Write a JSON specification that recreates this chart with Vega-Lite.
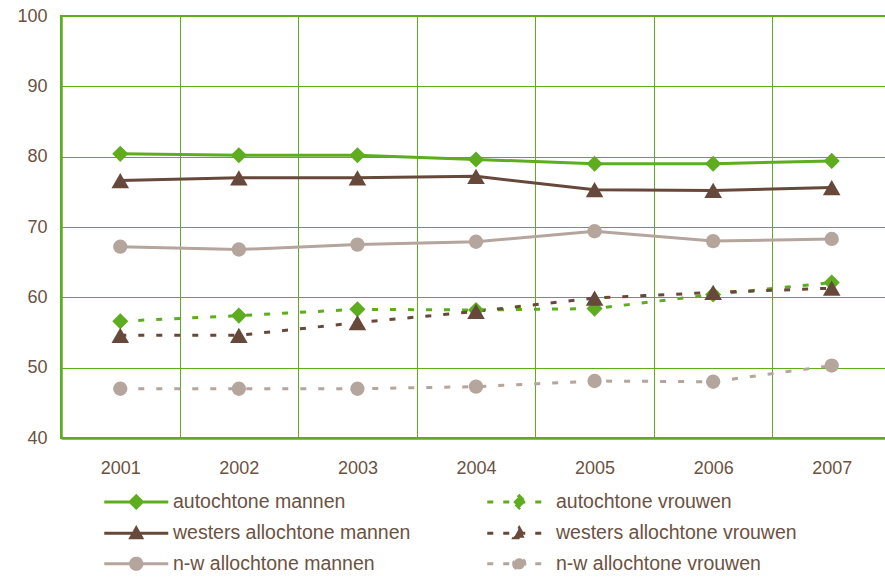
{
  "$schema": "https://vega.github.io/schema/vega-lite/v6.json",
  "autosize": "none",
  "padding": {"left": 61, "top": 16, "right": 0, "bottom": 140},
  "width": 830,
  "height": 422,
  "background": "white",
  "config": {
    "font": "Liberation Sans",
    "view": {"stroke": "#5DAD1F", "strokeWidth": 2},
    "axis": {"labelFont": "Liberation Sans", "labelFontSize": 18, "labelColor": "#6B5242", "domainColor": "#5DAD1F", "domainWidth": 2.5, "gridColor": "#5DAD1F", "gridWidth": 1, "gridOpacity": 1, "ticks": false, "title": null}
  },
  "data": {
    "values": [
      {"year": "2001", "series": "autochtone mannen", "value": 80.4},
      {"year": "2002", "series": "autochtone mannen", "value": 80.2},
      {"year": "2003", "series": "autochtone mannen", "value": 80.2},
      {"year": "2004", "series": "autochtone mannen", "value": 79.6},
      {"year": "2005", "series": "autochtone mannen", "value": 79.0},
      {"year": "2006", "series": "autochtone mannen", "value": 79.0},
      {"year": "2007", "series": "autochtone mannen", "value": 79.4},
      {"year": "2001", "series": "autochtone vrouwen", "value": 56.6},
      {"year": "2002", "series": "autochtone vrouwen", "value": 57.4},
      {"year": "2003", "series": "autochtone vrouwen", "value": 58.3},
      {"year": "2004", "series": "autochtone vrouwen", "value": 58.2},
      {"year": "2005", "series": "autochtone vrouwen", "value": 58.4},
      {"year": "2006", "series": "autochtone vrouwen", "value": 60.4},
      {"year": "2007", "series": "autochtone vrouwen", "value": 62.1},
      {"year": "2001", "series": "westers allochtone mannen", "value": 76.6},
      {"year": "2002", "series": "westers allochtone mannen", "value": 77.0},
      {"year": "2003", "series": "westers allochtone mannen", "value": 77.0},
      {"year": "2004", "series": "westers allochtone mannen", "value": 77.2},
      {"year": "2005", "series": "westers allochtone mannen", "value": 75.3},
      {"year": "2006", "series": "westers allochtone mannen", "value": 75.2},
      {"year": "2007", "series": "westers allochtone mannen", "value": 75.6},
      {"year": "2001", "series": "westers allochtone vrouwen", "value": 54.6},
      {"year": "2002", "series": "westers allochtone vrouwen", "value": 54.6},
      {"year": "2003", "series": "westers allochtone vrouwen", "value": 56.4},
      {"year": "2004", "series": "westers allochtone vrouwen", "value": 58.0},
      {"year": "2005", "series": "westers allochtone vrouwen", "value": 59.9},
      {"year": "2006", "series": "westers allochtone vrouwen", "value": 60.7},
      {"year": "2007", "series": "westers allochtone vrouwen", "value": 61.3},
      {"year": "2001", "series": "n-w allochtone mannen", "value": 67.2},
      {"year": "2002", "series": "n-w allochtone mannen", "value": 66.8},
      {"year": "2003", "series": "n-w allochtone mannen", "value": 67.5},
      {"year": "2004", "series": "n-w allochtone mannen", "value": 67.9},
      {"year": "2005", "series": "n-w allochtone mannen", "value": 69.4},
      {"year": "2006", "series": "n-w allochtone mannen", "value": 68.0},
      {"year": "2007", "series": "n-w allochtone mannen", "value": 68.3},
      {"year": "2001", "series": "n-w allochtone vrouwen", "value": 47.0},
      {"year": "2002", "series": "n-w allochtone vrouwen", "value": 47.0},
      {"year": "2003", "series": "n-w allochtone vrouwen", "value": 47.0},
      {"year": "2004", "series": "n-w allochtone vrouwen", "value": 47.3},
      {"year": "2005", "series": "n-w allochtone vrouwen", "value": 48.1},
      {"year": "2006", "series": "n-w allochtone vrouwen", "value": 48.0},
      {"year": "2007", "series": "n-w allochtone vrouwen", "value": 50.3}
    ]
  },
  "encoding": {
    "x": {
      "field": "year", "type": "ordinal", "bandPosition": 0.5,
      "scale": {"type": "band", "paddingInner": 0, "paddingOuter": 0},
      "axis": {"labelAngle": 0, "labelPadding": 21, "grid": true, "tickBand": "extent"}
    },
    "y": {
      "field": "value", "type": "quantitative",
      "scale": {"domain": [40, 100], "nice": false, "zero": false},
      "axis": {"values": [40, 50, 60, 70, 80, 90, 100], "labelPadding": 14, "grid": true}
    },
    "color": {
      "field": "series", "type": "nominal",
      "scale": {
        "domain": ["autochtone mannen", "westers allochtone mannen", "n-w allochtone mannen", "autochtone vrouwen", "westers allochtone vrouwen", "n-w allochtone vrouwen"],
        "range": ["#5DAD1F", "#66493A", "#B4A59D", "#5DAD1F", "#66493A", "#B4A59D"]
      },
      "legend": {
        "title": null,
        "orient": "none",
        "legendX": 33.5,
        "legendY": 476,
        "columns": 2,
        "columnPadding": 67,
        "rowPadding": 7.5,
        "padding": 0,
        "symbolSize": 16,
        "symbolStrokeWidth": 3,
        "labelFont": "Liberation Sans",
        "labelFontSize": 19.5,
        "labelColor": "#6B5242",
        "labelOffset": 59,
        "labelLimit": 400,
        "encode": {
          "symbols": {
            "update": {
              "shape": {"signal": "indexof(datum.value, 'autochtone') >= 0 ? 'M0,0L32,0M16,-3L19,0L16,3L13,0Z' : indexof(datum.value, 'westers') >= 0 ? 'M0,0L32,0M16,-2.6L18.7,2.2L13.3,2.2Z' : 'M0,0L32,0M13.2,0A2.8,2.8,0,1,0,18.8,0A2.8,2.8,0,1,0,13.2,0Z'"},
              "fill": {"scale": "color", "field": "value"},
              "stroke": {"scale": "color", "field": "value"},
              "strokeWidth": {"value": 3},
              "strokeDash": {"signal": "indexof(datum.value, 'vrouwen') >= 0 ? [6, 10] : [1, 0]"},
              "size": {"value": 16},
              "opacity": {"value": 1},
              "fillOpacity": {"value": 1},
              "strokeOpacity": {"value": 1}
            }
          }
        }
      }
    }
  },
  "layer": [
    {
      "transform": [{"filter": "indexof(datum.series, 'mannen') >= 0"}],
      "mark": {"type": "line", "strokeWidth": 3}
    },
    {
      "transform": [{"filter": "indexof(datum.series, 'vrouwen') >= 0"}],
      "mark": {"type": "line", "strokeWidth": 3, "strokeDash": [6, 12]}
    },
    {
      "transform": [{"filter": "indexof(datum.series, 'autochtone') >= 0"}],
      "mark": {"type": "point", "filled": true, "opacity": 1, "shape": "diamond", "size": 260}
    },
    {
      "transform": [{"filter": "indexof(datum.series, 'westers') >= 0"}],
      "mark": {"type": "point", "filled": true, "opacity": 1, "shape": "triangle-up", "size": 310}
    },
    {
      "transform": [{"filter": "indexof(datum.series, 'n-w') >= 0"}],
      "mark": {"type": "point", "filled": true, "opacity": 1, "shape": "circle", "size": 205}
    }
  ]
}
